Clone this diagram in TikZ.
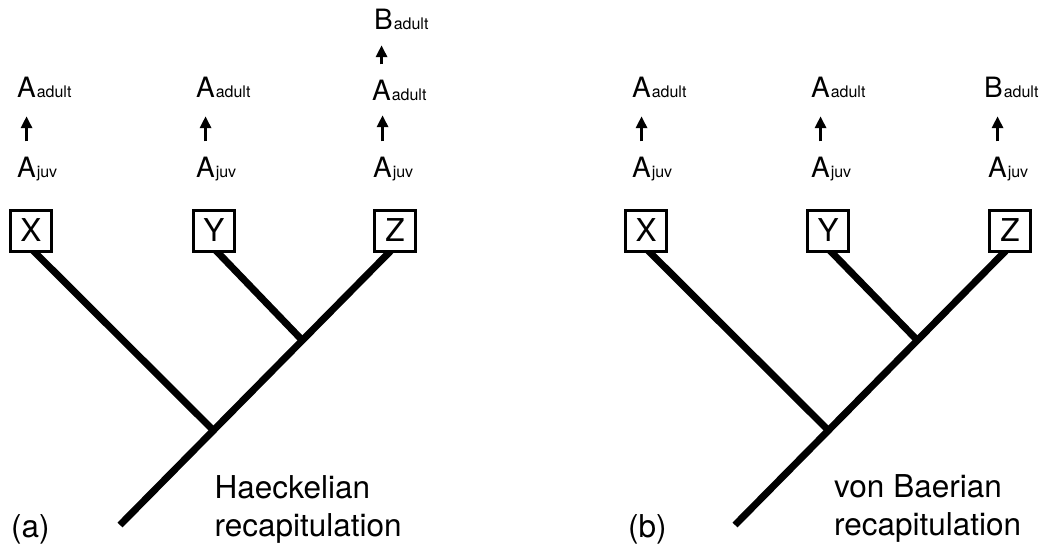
\documentclass[tikz,border=0pt]{standalone}
\usepackage{fontspec}
\setmainfont{TeX Gyre Heros}
\usetikzlibrary{arrows.meta,backgrounds,calc}
\begin{document}
\begin{tikzpicture}[x=1pt,y=-1pt,
  taxon/.style={draw, line width=3pt, fill=white, minimum size=41pt, inner sep=0pt, font=\fontsize{31.5}{31.5}\selectfont},
  big/.style={inner sep=0pt, font=\fontsize{28}{28}\selectfont, anchor=base west},
  subs/.style={inner sep=0pt, font=\fontsize{16}{16}\selectfont, anchor=base west},
  devarrow/.style={line width=3pt, -{Triangle[width=11pt,length=12pt]}},
  branch/.style={line width=7pt},
  caption/.style={inner sep=0pt, font=\fontsize{31.5}{38}\selectfont, anchor=base west, align=left}]
\useasboundingbox (0,0) rectangle (1042,550);

% ---------- panel (a) ----------
\node[taxon] (Xa) at (31,230.5) {X};
\node[taxon] (Ya) at (214,230.5) {Y};
\node[taxon] (Za) at (395,230.5) {Z};

% column X
\node[big] (xaj) at (17,177) {A};
\node[subs] (xajs) at ([xshift=0.5pt]xaj.base east) {juv};
\node[big] (xaa) at (17,97) {A};
\node[subs] (xaas) at ([xshift=0.5pt]xaa.base east) {adult};
% column Y
\node[big] (yaj) at (196,177) {A};
\node[subs] (yajs) at ([xshift=0.5pt]yaj.base east) {juv};
\node[big] (yaa) at (196,97) {A};
\node[subs] (yaas) at ([xshift=0.5pt]yaa.base east) {adult};
% column Z
\node[big] (zaj) at (373,177) {A};
\node[subs] (zajs) at ([xshift=0.5pt]zaj.base east) {juv};
\node[big] (zaa) at (372,100) {A};
\node[subs] (zaas) at ([xshift=0.5pt]zaa.base east) {adult};
\node[big] (zab) at (374,29) {B};
\node[subs] (zabs) at ([xshift=0.5pt]zab.base east) {adult};

\draw[devarrow] ([yshift=15pt]xaj.north) -- ([yshift=-19pt]xaj.north |- xaa.south);
\draw[devarrow] ([yshift=15pt]yaj.north) -- ([yshift=-19pt]yaj.north |- yaa.south);
\draw[devarrow] ([yshift=15pt]zaj.north) -- ([yshift=-15pt]zaj.north |- zaa.south);
\draw[devarrow] ([yshift=15pt]zaa.north) -- ([yshift=-16pt]zaa.north |- zab.south);

\coordinate (ra) at (120,525);
\coordinate (j1a) at (213,430);
\coordinate (j2a) at (302,340);
\begin{scope}[on background layer]
\draw[branch] (ra) -- ($(Za.south)+(-2,-4)$);
\draw[branch] (j1a) -- ($(Xa.south)+(0,-4)$);
\draw[branch] (j2a) -- ($(Ya.south)+(0,-4)$);
\end{scope}

\node[caption] (capa) at (11,537) {(a)};
\node[caption] (texta) at (214.5,536) {Haeckelian\\recapitulation};

% ---------- panel (b) ----------
\node[taxon] (Xb) at (646,230.5) {X};
\node[taxon] (Yb) at (828,230.5) {Y};
\node[taxon] (Zb) at (1010,230.5) {Z};

\node[big] (xbj) at (632,177) {A};
\node[subs] (xbjs) at ([xshift=0.5pt]xbj.base east) {juv};
\node[big] (xba) at (632,97) {A};
\node[subs] (xbas) at ([xshift=0.5pt]xba.base east) {adult};

\node[big] (ybj) at (811,177) {A};
\node[subs] (ybjs) at ([xshift=0.5pt]ybj.base east) {juv};
\node[big] (yba) at (811,97) {A};
\node[subs] (ybas) at ([xshift=0.5pt]yba.base east) {adult};

\node[big] (zbj) at (988,177) {A};
\node[subs] (zbjs) at ([xshift=0.5pt]zbj.base east) {juv};
\node[big] (zbb) at (984,97) {B};
\node[subs] (zbbs) at ([xshift=0.5pt]zbb.base east) {adult};

\draw[devarrow] ([yshift=15pt]xbj.north) -- ([yshift=-19pt]xbj.north |- xba.south);
\draw[devarrow] ([yshift=15pt]ybj.north) -- ([yshift=-19pt]ybj.north |- yba.south);
\draw[devarrow] ([yshift=15pt]zbj.north) -- ([yshift=-19pt]zbj.north |- zbb.south);

\coordinate (rb) at (735,525);
\coordinate (j1b) at (828,430);
\coordinate (j2b) at (917,340);
\begin{scope}[on background layer]
\draw[branch] (rb) -- ($(Zb.south)+(-2,-4)$);
\draw[branch] (j1b) -- ($(Xb.south)+(0,-4)$);
\draw[branch] (j2b) -- ($(Yb.south)+(0,-4)$);
\end{scope}

\node[caption] (capb) at (628,537) {(b)};
\node[caption] (textb) at (834,535) {von Baerian\\recapitulation};
\end{tikzpicture}
\end{document}
